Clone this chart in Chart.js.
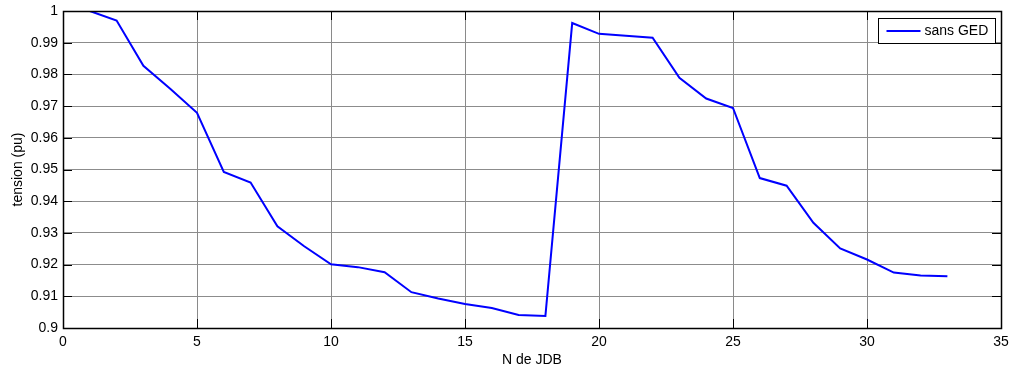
<!DOCTYPE html>
<html>
<head>
<meta charset="utf-8">
<script src="https://cdn.jsdelivr.net/npm/chart.js@4/dist/chart.umd.min.js"></script>
<style>
  html, body { margin: 0; padding: 0; background: #fff; }
  #c { display: block; }
</style>
</head>
<body>
<canvas id="c" width="1012" height="373"></canvas>
<script>
// N de JDB (numero du jeu de barres)
const jdb = [1, 2, 3, 4, 5, 6, 7, 8, 9, 10, 11, 12, 13, 14, 15, 16, 17,
             18, 19, 20, 21, 22, 23, 24, 25, 26, 27, 28, 29, 30, 31, 32, 33];
// tension (pu) sans GED
const tensionSansGED = [1.0000, 0.9970, 0.9827, 0.9755, 0.9679, 0.9492, 0.9459, 0.9321,
                        0.9258, 0.9201, 0.9192, 0.9176, 0.9113, 0.9093, 0.9076, 0.9063,
                        0.9041, 0.9038, 0.9962, 0.9928, 0.9922, 0.9916, 0.9789, 0.9724,
                        0.9694, 0.9473, 0.9449, 0.9332, 0.9251, 0.9216, 0.9175, 0.9166,
                        0.9163];
const xTicks = [0, 5, 10, 15, 20, 25, 30, 35];
const yTicks = [0.9, 0.91, 0.92, 0.93, 0.94, 0.95, 0.96, 0.97, 0.98, 0.99, 1];
const serieLabel = 'sans GED';

const police = 'Arial, "Liberation Sans", sans-serif';
const taille = 14;

// cadre, graduations vers l'interieur et legende facon MATLAB
const cadreMatlab = {
    id: 'cadreMatlab',
    afterDatasetsDraw(chart) {
        const ctx = chart.ctx;
        const a = chart.chartArea;
        const sx = chart.scales.x, sy = chart.scales.y;
        const tl = 9;
        ctx.save();
        ctx.strokeStyle = '#000';
        ctx.lineWidth = 1;
        ctx.beginPath();
        xTicks.forEach(function (v) {
            const px = Math.round(sx.getPixelForValue(v)) + 0.5;
            ctx.moveTo(px, a.bottom); ctx.lineTo(px, a.bottom - tl);
            ctx.moveTo(px, a.top); ctx.lineTo(px, a.top + tl);
        });
        yTicks.forEach(function (v) {
            const py = Math.round(sy.getPixelForValue(v)) + 0.5;
            ctx.moveTo(a.left, py); ctx.lineTo(a.left + tl, py);
            ctx.moveTo(a.right, py); ctx.lineTo(a.right - tl, py);
        });
        ctx.stroke();
        ctx.lineWidth = 1.5;
        ctx.strokeRect(Math.round(a.left) + 0.5, Math.round(a.top) + 0.5,
                       Math.round(a.right - a.left), Math.round(a.bottom - a.top));

        // legende
        const w = 117, h = 25;
        const lx = Math.round(a.right) - 6 - w + 0.5;
        const ly = Math.round(a.top) + 7 + 0.5;
        ctx.fillStyle = '#fff';
        ctx.fillRect(lx, ly, w, h);
        ctx.lineWidth = 1;
        ctx.strokeStyle = '#000';
        ctx.strokeRect(lx, ly, w, h);
        ctx.strokeStyle = '#0000ff';
        ctx.lineWidth = 2;
        ctx.beginPath();
        ctx.moveTo(lx + 8, ly + 12.5);
        ctx.lineTo(lx + 42, ly + 12.5);
        ctx.stroke();
        ctx.fillStyle = '#000';
        ctx.font = taille + 'px ' + police;
        ctx.textBaseline = 'middle';
        ctx.textAlign = 'left';
        ctx.fillText(serieLabel, lx + 46, ly + 13);
        ctx.restore();
    }
};

new Chart(document.getElementById('c').getContext('2d'), {
    type: 'line',
    data: {
        datasets: [{
            label: serieLabel,
            data: jdb.map(function (x, i) { return { x: x, y: tensionSansGED[i] }; }),
            borderColor: '#0000ff',
            borderWidth: 2,
            pointRadius: 0,
            tension: 0,
            fill: false
        }]
    },
    options: {
        responsive: false,
        animation: false,
        layout: { padding: { top: 11, right: 11, left: 0, bottom: 0 } },
        plugins: {
            legend: { display: false },
            tooltip: { enabled: false }
        },
        scales: {
            x: {
                type: 'linear',
                min: 0,
                max: 35,
                afterFit: function (s) { s.height = 45; s.paddingLeft = 0; s.paddingRight = 0; },
                afterBuildTicks: function (s) { s.ticks = xTicks.map(function (v) { return { value: v }; }); },
                grid: { color: '#8a8a8a', lineWidth: 1, drawTicks: false },
                border: { display: false },
                ticks: { color: '#000', padding: 6, font: { family: police, size: taille } },
                title: { display: true, text: 'N de JDB', color: '#000',
                         font: { family: police, size: taille }, padding: { top: 0, bottom: 4 } }
            },
            y: {
                min: 0.9,
                max: 1,
                afterFit: function (s) { s.width = 63; s.paddingTop = 0; s.paddingBottom = 0; },
                afterBuildTicks: function (s) { s.ticks = yTicks.map(function (v) { return { value: v }; }); },
                grid: { color: '#8c8c8c', lineWidth: 1, drawTicks: false },
                border: { display: false },
                ticks: {
                    color: '#000', padding: 5, font: { family: police, size: taille },
                    callback: function (v) { return String(Number(v.toFixed(2))); }
                },
                title: { display: true, text: 'tension (pu)', color: '#000',
                         font: { family: police, size: taille }, padding: { top: 10, bottom: 0 } }
            }
        }
    },
    plugins: [cadreMatlab]
});
</script>
</body>
</html>
